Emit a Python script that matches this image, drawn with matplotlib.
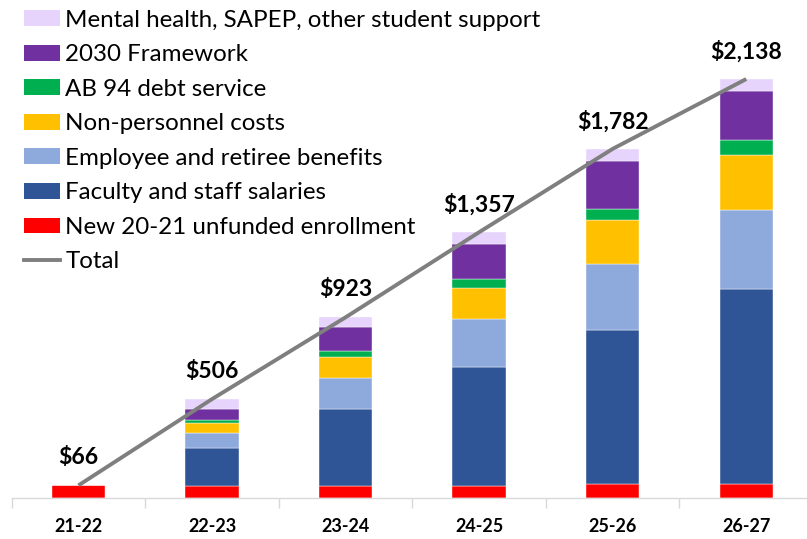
import matplotlib.pyplot as plt
from matplotlib.patches import Patch
from matplotlib.lines import Line2D

plt.rcParams['font.family'] = ['Lato', 'DejaVu Sans']

years = ['21-22', '22-23', '23-24', '24-25', '25-26', '26-27']
enrollment = [66, 61, 63, 63, 71, 71]
salaries = [0, 194, 392, 606, 788, 998]
benefits = [0, 78, 158, 243, 337, 403]
nonpersonnel = [0, 49, 107, 158, 221, 279]
ab94 = [0, 15, 31, 49, 56, 78]
framework = [0, 58, 121, 180, 246, 246]
mental = [0, 51, 51, 58, 63, 63]
total = [66, 506, 923, 1357, 1782, 2138]
total_labels = ['$66', '$506', '$923', '$1,357', '$1,782', '$2,138']

series = [
    ('New 20-21 unfunded enrollment', enrollment, '#FF0000'),
    ('Faculty and staff salaries', salaries, '#2F5597'),
    ('Employee and retiree benefits', benefits, '#8EA9DB'),
    ('Non-personnel costs', nonpersonnel, '#FFC000'),
    ('AB 94 debt service', ab94, '#00B050'),
    ('2030 Framework', framework, '#7030A0'),
    ('Mental health, SAPEP, other student support', mental, '#E6D4FC'),
]

fig = plt.figure(figsize=(8.07, 5.39), dpi=100)
ax = fig.add_axes([0.0145, 0.0755, 0.993, 0.9245])

x = list(range(len(years)))
bottom = [0] * len(years)
for name, vals, col in series:
    ax.bar(x, vals, width=0.40, bottom=bottom, color=col, edgecolor='white', linewidth=0.3)
    bottom = [b + v for b, v in zip(bottom, vals)]

ax.plot(x, total, color='#7F7F7F', linewidth=2.8, solid_capstyle='butt', zorder=3)

for xi, t, lab in zip(x, total, total_labels):
    ax.annotate(lab, (xi, t), xytext=(0, 20), textcoords='offset points',
                ha='center', va='center', fontsize=16.5, fontweight='bold', color='black')

ax.set_xlim(-0.5, 5.5)
ax.set_ylim(0, 2541)
ax.set_yticks([])
for s in ['top', 'right', 'left']:
    ax.spines[s].set_visible(False)
ax.spines['bottom'].set_color('#D9D9D9')
ax.spines['bottom'].set_linewidth(1)

ax.set_xticks(x)
ax.set_xticklabels(years, fontsize=13, fontweight='bold')
ax.tick_params(axis='x', which='major', length=0, pad=14)
ax.set_xticks([i + 0.5 for i in range(-1, 6)], minor=True)
ax.tick_params(axis='x', which='minor', length=7, color='#D9D9D9', width=1)

handles = [Patch(facecolor=col, edgecolor='none') for _, _, col in reversed(series)]
labels = [name for name, _, _ in reversed(series)]
handles.append(Line2D([0], [0], color='#7F7F7F', linewidth=2.8))
labels.append('Total')
fig.legend(handles, labels, loc='upper left', bbox_to_anchor=(0.018, 1.0),
           frameon=False, fontsize=17.4, handlelength=1.5, handleheight=0.62,
           labelspacing=0.56, handletextpad=0.2, borderaxespad=0)

fig.savefig('out.png', dpi=100)
